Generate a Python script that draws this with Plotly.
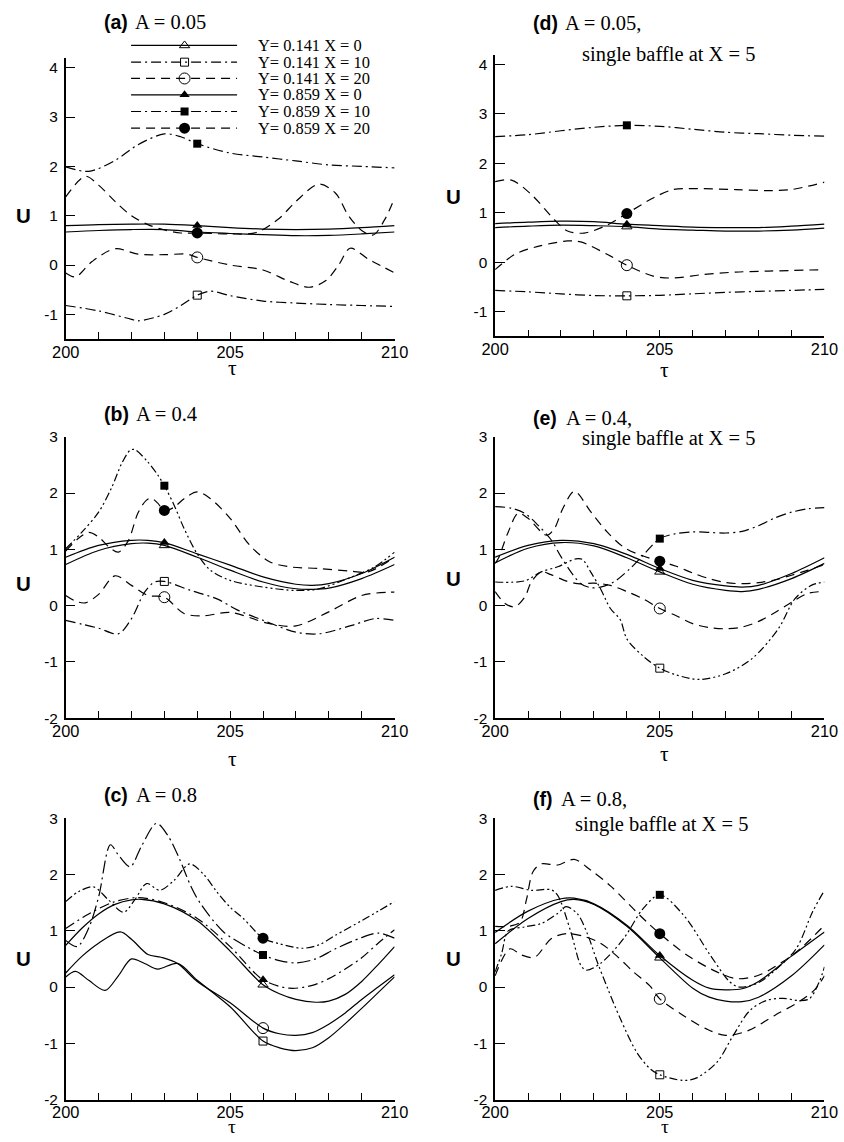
import plotly.graph_objects as go

# Measured render model: the page keeps an 8px body margin and the captured viewport
# is scaled to 844x1142 by about SX x SY.  All layout positions below are given in
# final-picture pixels and converted to figure coordinates.
SX, SY = 0.9765, 0.9845
OFF = 8
W, H = 856, 1144
FS = 1 / SX  # font compensation

SERIES_LABELS = ["Y= 0.141 X = 0", "Y= 0.141 X = 10", "Y= 0.141 X = 20",
                 "Y= 0.859 X = 0", "Y= 0.859 X = 10", "Y= 0.859 X = 20"]
X_TICK_VALUES = list(range(200, 211))
X_TICK_TEXT = ["200", "", "", "", "", "205", "", "", "", "", "210"]
Y_TICKS_TOP = [-1, 0, 1, 2, 3, 4]
Y_TICKS_LOW = [-2, -1, 0, 1, 2, 3]

# ---------------- panel (a)  A = 0.05 ----------------
a1_tau = [200, 201, 202, 203, 204, 205, 206, 207, 208, 209, 210]
a1_u = [0.67, 0.70, 0.72, 0.72, 0.67, 0.64, 0.615, 0.595, 0.60, 0.63, 0.67]
a2_tau = [200, 201, 202, 202.2, 203, 203.5, 204, 204.4, 205, 206, 207, 208, 209, 210]
a2_u = [-0.82, -0.93, -1.10, -1.13, -1.0, -0.82, -0.61, -0.53, -0.62, -0.73, -0.77, -0.80, -0.82, -0.84]
a3_tau = [200, 200.3, 200.8, 201.5, 202.2, 203, 203.7, 204, 205, 206, 206.8, 207.4, 207.9, 208.3, 208.65, 209.2, 209.6, 210]
a3_u = [-0.16, -0.24, 0.07, 0.33, 0.22, 0.21, 0.22, 0.155, 0.0, -0.1, -0.33, -0.45, -0.32, 0.0, 0.34, 0.12, -0.02, -0.16]
a4_tau = [200, 201, 202, 203, 204, 205, 206, 207, 208, 209, 210]
a4_u = [0.80, 0.82, 0.83, 0.83, 0.80, 0.76, 0.73, 0.72, 0.73, 0.76, 0.80]
a5_tau = [200, 200.7, 201.5, 202.2, 203, 203.5, 204, 205, 206, 207, 208, 209, 210]
a5_u = [1.99, 1.90, 2.12, 2.44, 2.66, 2.60, 2.46, 2.27, 2.19, 2.11, 2.03, 2.0, 1.97]
a6_tau = [200, 200.6, 201, 201.5, 202, 202.5, 203, 203.5, 204, 205, 205.8, 206.5, 207, 207.7, 208.2, 208.6, 209.0, 209.35, 209.7, 210]
a6_u = [1.38, 1.80, 1.62, 1.29, 1.0, 0.82, 0.71, 0.65, 0.65, 0.63, 0.66, 0.95, 1.29, 1.64, 1.46, 1.0, 0.70, 0.61, 0.92, 1.36]

# ---------------- panel (d)  A = 0.05, single baffle ----------------
d1_tau = [200, 201, 202, 203, 204, 205, 206, 207, 208, 209, 210]
d1_u = [0.70, 0.73, 0.75, 0.74, 0.72, 0.67, 0.65, 0.63, 0.63, 0.65, 0.69]
d2_tau = [200, 201, 202, 203, 204, 205, 206, 207, 208, 209, 210]
d2_u = [-0.57, -0.60, -0.64, -0.675, -0.68, -0.67, -0.64, -0.61, -0.59, -0.57, -0.55]
d3_tau = [200, 200.6, 201.3, 202.2, 202.6, 203.4, 204, 204.8, 205.4, 206.3, 207.3, 208.3, 210]
d3_u = [-0.15, 0.16, 0.32, 0.43, 0.41, 0.16, -0.06, -0.28, -0.32, -0.25, -0.2, -0.18, -0.15]
d4_tau = [200, 201, 202, 203, 204, 205, 206, 207, 208, 209, 210]
d4_u = [0.78, 0.81, 0.83, 0.82, 0.77, 0.74, 0.71, 0.70, 0.70, 0.73, 0.77]
d5_tau = [200, 201, 202, 203, 204, 205, 206, 207, 208, 209, 210]
d5_u = [2.54, 2.58, 2.66, 2.73, 2.77, 2.75, 2.69, 2.63, 2.60, 2.57, 2.55]
d6_tau = [200, 200.5, 201.1, 201.8, 202.2, 202.7, 203.4, 204, 204.8, 205.4, 206, 207.3, 208.3, 209, 210]
d6_u = [1.63, 1.66, 1.37, 0.86, 0.63, 0.59, 0.75, 0.985, 1.30, 1.47, 1.49, 1.47, 1.45, 1.47, 1.62]

# ---------------- panel (b)  A = 0.4 ----------------
b1_tau = [200, 201, 202, 202.5, 203, 204, 205, 206, 207, 207.5, 208, 209, 210]
b1_u = [0.73, 0.98, 1.10, 1.11, 1.07, 0.86, 0.63, 0.42, 0.30, 0.29, 0.31, 0.48, 0.73]
b2_tau = [200, 200.5, 201, 201.6, 202.0, 202.4, 202.7, 203, 203.8, 204.6, 205.2, 206, 207, 207.7, 208.7, 209.4, 210]
b2_u = [-0.26, -0.33, -0.40, -0.50, -0.23, 0.24, 0.42, 0.43, 0.27, 0.12, -0.07, -0.26, -0.47, -0.50, -0.35, -0.23, -0.26]
b3_tau = [200, 200.3, 200.6, 201, 201.5, 202, 202.5, 203, 203.6, 204.2, 205, 206.2, 207, 208, 209, 209.8, 210]
b3_u = [0.18, 0.08, 0.05, 0.2, 0.53, 0.36, 0.18, 0.15, -0.14, -0.18, -0.12, -0.32, -0.36, -0.11, 0.18, 0.24, 0.24]
b4_tau = [200, 201, 202, 202.5, 203, 204, 205, 206, 207, 207.5, 208, 209, 210]
b4_u = [0.86, 1.07, 1.16, 1.16, 1.12, 0.92, 0.72, 0.51, 0.38, 0.36, 0.39, 0.57, 0.86]
b5_tau = [200, 200.5, 201, 201.4, 201.7, 201.96, 202.1, 202.5, 202.8, 203, 203.3, 203.6, 204, 204.4, 205, 206, 207, 207.7, 208.7, 209.4, 210]
b5_u = [1.01, 1.31, 1.66, 2.1, 2.52, 2.76, 2.77, 2.55, 2.32, 2.13, 1.78, 1.37, 0.92, 0.63, 0.45, 0.33, 0.27, 0.30, 0.51, 0.69, 0.95]
b6_tau = [200, 200.4, 200.7, 201.0, 201.3, 201.6, 201.9, 202.2, 202.45, 202.6, 202.8, 203, 203.3, 203.6, 204, 204.4, 205, 205.6, 206.2, 206.8, 207.7, 208.7, 209.2, 210]
b6_u = [0.97, 1.2, 1.3, 1.22, 1.05, 0.95, 1.15, 1.65, 1.87, 1.91, 1.82, 1.69, 1.75, 1.9, 2.02, 1.90, 1.55, 1.07, 0.78, 0.69, 0.66, 0.61, 0.60, 0.86]

# ---------------- panel (e)  A = 0.4, single baffle ----------------
e1_tau = [200, 201, 202, 203, 204, 205, 206, 207, 207.5, 208, 209, 210]
e1_u = [0.76, 1.02, 1.12, 1.06, 0.85, 0.60, 0.38, 0.27, 0.25, 0.29, 0.48, 0.75]
e2_tau = [200, 200.9, 201.4, 201.9, 202.45, 202.65, 202.9, 203.2, 203.5, 203.8, 204.0, 204.5, 205, 205.5, 206.2, 207, 207.8, 208.6, 209.1, 209.6, 210]
e2_u = [0.42, 0.44, 0.60, 0.69, 0.83, 0.82, 0.60, 0.30, -0.05, -0.25, -0.59, -0.9, -1.11, -1.23, -1.31, -1.21, -0.94, -0.41, 0.12, 0.36, 0.42]
e3_tau = [200, 200.3, 200.6, 200.9, 201.1, 201.4, 201.7, 202.1, 202.5, 203, 203.5, 204, 204.5, 205, 205.5, 206, 206.5, 207, 207.5, 208, 208.5, 209, 209.5, 210]
e3_u = [0.25, 0.04, -0.02, 0.15, 0.42, 0.6, 0.55, 0.45, 0.39, 0.4, 0.36, 0.25, 0.12, -0.05, -0.18, -0.32, -0.39, -0.41, -0.38, -0.28, -0.12, 0.06, 0.22, 0.25]
e4_tau = [200, 201, 202, 203, 204, 205, 206, 207, 207.5, 208, 209, 210]
e4_u = [0.86, 1.07, 1.16, 1.10, 0.91, 0.66, 0.45, 0.35, 0.33, 0.36, 0.57, 0.85]
e5_tau = [200, 200.5, 200.9, 201.3, 201.7, 202, 202.3, 202.6, 202.9, 203.2, 203.6, 204.1, 204.5, 205, 205.5, 206, 206.5, 207, 207.5, 208, 208.5, 209, 209.5, 210]
e5_u = [1.76, 1.73, 1.64, 1.43, 1.17, 0.87, 0.60, 0.39, 0.32, 0.33, 0.42, 0.66, 0.9, 1.19, 1.28, 1.31, 1.30, 1.29, 1.32, 1.42, 1.56, 1.66, 1.72, 1.74]
e6_tau = [200, 200.1, 200.4, 200.7, 201.0, 201.56, 201.8, 202.06, 202.41, 202.9, 203.4, 203.9, 204.4, 205, 205.5, 206, 206.5, 207, 207.5, 208, 208.5, 209, 209.5, 210]
e6_u = [0.75, 0.84, 1.31, 1.64, 1.55, 1.25, 1.37, 1.73, 2.03, 1.67, 1.31, 1.04, 0.9, 0.79, 0.7, 0.58, 0.48, 0.41, 0.39, 0.41, 0.46, 0.54, 0.63, 0.73]

# ---------------- panel (c)  A = 0.8 ----------------
c1_tau = [200, 200.5, 201, 201.5, 202, 202.3, 203, 204, 205, 206, 206.5, 207, 207.6, 208, 208.5, 209, 209.5, 210]
c1_u = [0.74, 1.05, 1.3, 1.47, 1.55, 1.56, 1.48, 1.18, 0.64, 0.04, -0.12, -0.22, -0.27, -0.25, -0.13, 0.1, 0.4, 0.72]
c2_tau = [200, 200.3, 200.7, 201.2, 201.6, 202, 202.4, 202.8, 203.4, 204, 205, 206, 206.5, 207, 207.5, 208, 208.5, 209, 209.5, 210]
c2_u = [0.18, 0.28, 0.12, -0.06, 0.2, 0.5, 0.42, 0.32, 0.42, 0.12, -0.35, -0.96, -1.08, -1.13, -1.08, -0.9, -0.65, -0.38, -0.1, 0.18]
c3_tau = [200, 200.5, 201, 201.66, 202, 202.5, 202.9, 203.4, 204, 205, 206, 206.5, 207, 207.5, 208, 208.5, 209, 209.5, 210]
c3_u = [0.25, 0.55, 0.78, 0.98, 0.85, 0.58, 0.53, 0.42, 0.1, -0.28, -0.73, -0.83, -0.86, -0.81, -0.66, -0.46, -0.22, 0.0, 0.22]
c4_tau = [200, 200.7, 201.45, 202.2, 203, 204, 205, 206, 206.8, 207.5, 208, 208.5, 209, 209.5, 210]
c4_u = [1.04, 1.3, 1.51, 1.59, 1.5, 1.22, 0.72, 0.13, -0.02, 0.03, 0.15, 0.32, 0.52, 0.78, 1.02]
c5_tau = [200, 200.35, 200.7, 201, 201.36, 201.6, 201.96, 202.3, 202.76, 203.1, 203.46, 203.8, 204.07, 204.8, 205.5, 206, 206.5, 207, 207.6, 208.2, 209, 209.5, 210]
c5_u = [0.83, 0.72, 1.05, 1.6, 2.53, 2.35, 2.14, 2.5, 2.91, 2.7, 2.28, 1.8, 1.51, 0.98, 0.72, 0.57, 0.47, 0.43, 0.5, 0.68, 0.88, 0.96, 0.87]
c6_tau = [200, 200.4, 200.85, 201.3, 201.76, 202.1, 202.46, 202.86, 203.3, 203.77, 204.2, 204.6, 205, 205.4, 206, 206.5, 207.2, 207.7, 208.2, 209, 209.5, 210]
c6_u = [1.52, 1.7, 1.78, 1.55, 1.33, 1.55, 1.84, 1.72, 1.9, 2.19, 2.0, 1.69, 1.42, 1.22, 0.87, 0.77, 0.69, 0.75, 0.92, 1.18, 1.35, 1.52]

# ---------------- panel (f)  A = 0.8, single baffle ----------------
f1_tau = [200, 201, 202, 202.4, 203, 204, 205, 206, 206.5, 207, 207.5, 208, 209, 210]
f1_u = [0.77, 1.22, 1.52, 1.56, 1.47, 1.08, 0.52, -0.02, -0.18, -0.25, -0.26, -0.18, 0.2, 0.75]
f2_tau = [200, 200.2, 200.4, 200.9, 201.4, 201.9, 202.16, 202.5, 202.8, 203.1, 203.4, 203.8, 204.3, 204.7, 205, 205.7, 206.1, 206.73, 207.23, 207.73, 208.23, 208.73, 209.24, 209.54, 209.84, 210]
f2_u = [0.27, 0.6, 1.0, 1.07, 1.13, 1.31, 1.43, 1.3, 0.95, 0.45, 0.0, -0.56, -1.16, -1.45, -1.56, -1.66, -1.62, -1.34, -0.86, -0.42, -0.24, -0.2, -0.24, -0.21, 0.09, 0.36]
f3_tau = [200, 200.45, 200.8, 201.2, 201.7, 202.16, 202.7, 203.2, 203.7, 204.2, 204.7, 205, 205.7, 206.4, 207, 207.7, 208.5, 209.2, 209.7, 210]
f3_u = [0.2, 0.68, 0.57, 0.53, 0.86, 0.95, 0.9, 0.78, 0.55, 0.27, 0.02, -0.21, -0.5, -0.74, -0.86, -0.77, -0.5, -0.27, -0.05, 0.2]
f4_tau = [200, 201, 202, 202.4, 203, 204, 205, 206, 206.5, 207, 207.5, 208, 209, 210]
f4_u = [0.97, 1.35, 1.57, 1.58, 1.48, 1.1, 0.56, 0.12, -0.02, -0.05, -0.03, 0.1, 0.55, 0.98]
f5_tau = [200, 200.5, 201.1, 201.7, 201.9, 202.3, 202.6, 202.76, 203.2, 203.9, 204.5, 205, 205.72, 206.53, 207.13, 207.43, 208, 208.5, 209.14, 209.64, 210]
f5_u = [1.72, 1.79, 1.72, 1.73, 1.63, 0.98, 0.39, 0.30, 0.42, 0.86, 1.40, 1.64, 1.28, 0.57, 0.09, 0.0, 0.08, 0.3, 0.68, 1.34, 1.72]
f6_tau = [200, 200.4, 200.75, 200.95, 201.15, 201.4, 201.9, 202.4, 202.9, 203.5, 204.2, 204.6, 205, 205.82, 206.73, 207.33, 208, 208.73, 209.32, 210]
f6_u = [1.08, 1.08, 1.15, 1.55, 2.05, 2.19, 2.17, 2.27, 2.08, 1.8, 1.39, 1.16, 0.95, 0.57, 0.27, 0.15, 0.21, 0.45, 0.71, 1.10]

# ---------------- styles ----------------
SOLID = "solid"
DASH = "9px,6px"
DASHDOT = "10px,4px,2px,4px"
DASHDOTDOT = "8px,3px,2px,3px,2px,3px"
LONGDASHDOT = "13px,4px,2px,4px"
SYMBOLS = ["triangle-up-open", "square-open", "circle-open", "triangle-up", "square", "circle"]
MSIZES = [9, 8, 11, 9, 8, 11]
LW = 1.2


def fx(xd):  # final-picture x pixel -> paper fraction
    return (xd / SX - OFF) / W


def fy(yd):  # final-picture y pixel -> paper fraction
    return 1 - (yd / SY - OFF) / H


L_DOM = [fx(60), fx(392)]
R_DOM = [fx(493.5), fx(826)]


def ydom(top, bottom):
    return [fy(bottom), fy(top)]


panels = [
    dict(n=1, xdom=L_DOM, ydom=ydom(56.7, 337.7), yr=[-1.5, 4.2], yt=Y_TICKS_TOP, mt=204,
         data=[(a1_tau, a1_u), (a2_tau, a2_u), (a3_tau, a3_u), (a4_tau, a4_u), (a5_tau, a5_u), (a6_tau, a6_u)],
         dashes=[SOLID, DASHDOT, DASH, SOLID, DASHDOT, DASH]),
    dict(n=2, xdom=R_DOM, ydom=ydom(53.5, 335.0), yr=[-1.5, 4.2], yt=Y_TICKS_TOP, mt=204,
         data=[(d1_tau, d1_u), (d2_tau, d2_u), (d3_tau, d3_u), (d4_tau, d4_u), (d5_tau, d5_u), (d6_tau, d6_u)],
         dashes=[SOLID, DASHDOT, DASH, SOLID, DASHDOT, DASH]),
    dict(n=3, xdom=L_DOM, ydom=ydom(435.3, 716.7), yr=[-2, 3], yt=Y_TICKS_LOW, mt=203,
         data=[(b1_tau, b1_u), (b2_tau, b2_u), (b3_tau, b3_u), (b4_tau, b4_u), (b5_tau, b5_u), (b6_tau, b6_u)],
         dashes=[SOLID, DASHDOT, DASH, SOLID, DASHDOTDOT, DASH]),
    dict(n=4, xdom=R_DOM, ydom=ydom(435.3, 716.7), yr=[-2, 3], yt=Y_TICKS_LOW, mt=205,
         data=[(e1_tau, e1_u), (e2_tau, e2_u), (e3_tau, e3_u), (e4_tau, e4_u), (e5_tau, e5_u), (e6_tau, e6_u)],
         dashes=[SOLID, DASHDOTDOT, DASH, SOLID, DASHDOT, DASH]),
    dict(n=5, xdom=L_DOM, ydom=ydom(816.7, 1097.7), yr=[-2, 3], yt=Y_TICKS_LOW, mt=206,
         data=[(c1_tau, c1_u), (c2_tau, c2_u), (c3_tau, c3_u), (c4_tau, c4_u), (c5_tau, c5_u), (c6_tau, c6_u)],
         dashes=[SOLID, SOLID, SOLID, DASHDOT, LONGDASHDOT, DASHDOTDOT]),
    dict(n=6, xdom=R_DOM, ydom=ydom(816.7, 1097.7), yr=[-2, 3], yt=Y_TICKS_LOW, mt=205,
         data=[(f1_tau, f1_u), (f2_tau, f2_u), (f3_tau, f3_u), (f4_tau, f4_u), (f5_tau, f5_u), (f6_tau, f6_u)],
         dashes=[SOLID, DASHDOTDOT, DASH, SOLID, DASHDOTDOT, DASH]),
]

fig = go.Figure()
layout = dict(width=W, height=H, margin=dict(l=0, r=0, t=0, b=0),
              paper_bgcolor="white", plot_bgcolor="rgba(0,0,0,0)", showlegend=False)

AX_FONT_X = dict(family="Liberation Sans, Arial", size=round(16 * FS, 1), color="black")
AX_FONT_Y = dict(family="Liberation Sans, Arial", size=round(15 * FS, 1), color="black")

for p in panels:
    n = p["n"]
    xa = "x" if n == 1 else f"x{n}"
    ya = "y" if n == 1 else f"y{n}"
    xkey = "xaxis" if n == 1 else f"xaxis{n}"
    ykey = "yaxis" if n == 1 else f"yaxis{n}"
    layout[xkey] = dict(domain=p["xdom"], anchor=ya, range=[200, 210], showline=True, linecolor="black",
                        linewidth=1.6, ticks="inside", ticklen=7, tickwidth=1.2, tickcolor="black",
                        tickmode="array", tickvals=X_TICK_VALUES, ticktext=X_TICK_TEXT, tickfont=AX_FONT_X,
                        ticklabelstandoff=-3,
                        showgrid=False, zeroline=False, mirror=False, fixedrange=True)
    layout[ykey] = dict(domain=p["ydom"], anchor=xa, range=p["yr"], showline=True, linecolor="black",
                        linewidth=1.6, ticks="inside", ticklen=10, tickwidth=1.2, tickcolor="black",
                        tickmode="array", tickvals=p["yt"], ticktext=[str(v) for v in p["yt"]],
                        tickfont=AX_FONT_Y, ticklabelstandoff=3,
                        showgrid=False, zeroline=False, mirror=False, fixedrange=True)
    for i, (tau, u) in enumerate(p["data"]):
        fig.add_trace(go.Scatter(x=tau, y=u, xaxis=xa, yaxis=ya, mode="lines",
                                 line=dict(color="black", width=LW, dash=p["dashes"][i], shape="spline",
                                           smoothing=0.9),
                                 hoverinfo="skip"))
    for i, (tau, u) in enumerate(p["data"]):
        k = tau.index(p["mt"])
        filled = i >= 3
        fig.add_trace(go.Scatter(x=[tau[k]], y=[u[k]], xaxis=xa, yaxis=ya, mode="markers",
                                 marker=dict(symbol=SYMBOLS[i], size=MSIZES[i], color="black",
                                             line=dict(color="black", width=1.0 if not filled else 0)),
                                 cliponaxis=False, hoverinfo="skip"))

# overlay axis in final-picture pixel space for the legend samples of panel (a)
layout["xaxis7"] = dict(domain=[0, 1], anchor="y7", range=[SX * OFF, SX * (OFF + W)], visible=False,
                        fixedrange=True)
layout["yaxis7"] = dict(domain=[0, 1], anchor="x7", range=[SY * (OFF + H), SY * OFF], visible=False,
                        fixedrange=True)
LEG_ROWS = [44.3, 61.0, 77.3, 93.6, 110.3, 127.0]
LEG_X0, LEG_X1, LEG_XM, LEG_TX = 126, 233, 180, 252
leg_dashes = [SOLID, DASHDOT, DASH, SOLID, DASHDOT, DASH]
annotations = []
SERIF = "Liberation Serif, Times New Roman"
SANS = "Liberation Sans, Arial"


def ann(text, xd, yd, size, family, xanchor="left"):
    annotations.append(dict(text=text, x=fx(xd), y=fy(yd), xref="paper", yref="paper",
                            xanchor=xanchor, yanchor="middle", showarrow=False,
                            font=dict(family=family, size=round(size * FS, 1), color="black")))


for i, ry in enumerate(LEG_ROWS):
    fig.add_trace(go.Scatter(x=[LEG_X0, LEG_X1], y=[ry, ry], xaxis="x7", yaxis="y7", mode="lines",
                             line=dict(color="black", width=LW, dash=leg_dashes[i]), hoverinfo="skip"))
    filled = i >= 3
    fig.add_trace(go.Scatter(x=[LEG_XM], y=[ry], xaxis="x7", yaxis="y7", mode="markers",
                             marker=dict(symbol=SYMBOLS[i], size=MSIZES[i], color="black",
                                         line=dict(color="black", width=1.0 if not filled else 0)),
                             hoverinfo="skip"))
    ann(SERIES_LABELS[i], LEG_TX, ry, 16, SERIF)

titles = [
    ("(a)", "A = 0.05", None, 97, 128, 21, None),
    ("(d)", "A = 0.05,", "single baffle at X = 5", 530, 562, 22, (579, 53)),
    ("(b)", "A = 0.4", None, 97, 129, 413, None),
    ("(e)", "A = 0.4,", "single baffle at X = 5", 530, 563, 417, (579, 437)),
    ("(c)", "A = 0.8", None, 97, 129, 793, None),
    ("(f)", "A = 0.8,", "single baffle at X = 5", 530, 558, 797, (572, 823)),
]
for lab, txt, sub, x0, x1, yy, subpos in titles:
    ann("<b>" + lab + "</b>", x0, yy, 19, SANS)
    ann(txt, x1, yy, 20, SERIF)
    if sub:
        ann(sub, subpos[0], subpos[1], 20, SERIF)

u_pos = [(17, 214), (452, 195), (17, 582), (452, 577), (17, 957), (452, 957)]
for (ux, uy) in u_pos:
    ann("<b>U</b>", ux, uy, 20, SANS, xanchor="center")
tau_pos = [(228, 367, 21), (665, 369, 21), (228, 757, 21), (665, 752, 21), (228, 1125, 19), (665, 1125, 19)]
for (tx, ty, ts) in tau_pos:
    ann("τ", tx, ty, ts, SERIF, xanchor="center")

layout["annotations"] = annotations
fig.update_layout(**layout)
fig.write_html("out.html")
